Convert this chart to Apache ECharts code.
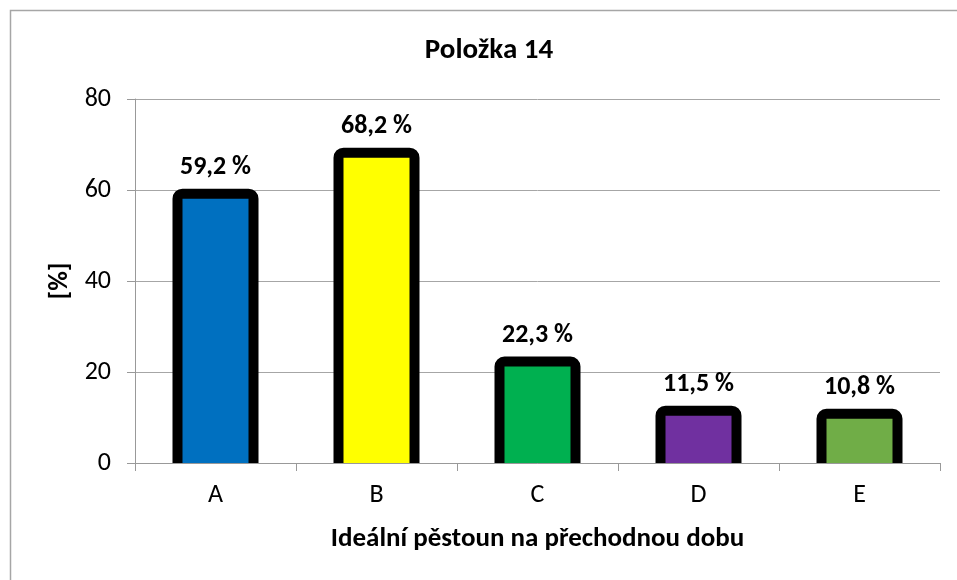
<!DOCTYPE html>
<html>
<head>
<meta charset="utf-8">
<title>Položka 14</title>
<script src="https://cdn.jsdelivr.net/npm/echarts@6/dist/echarts.min.js"></script>
<style>
  html, body { margin: 0; padding: 0; background: #fff; }
  #chart { width: 957px; height: 580px; }
</style>
</head>
<body>
<div id="chart"></div>
<script>
// data
var categories = ["A", "B", "C", "D", "E"];
var values = [59.2, 68.2, 22.3, 11.5, 10.8];
var barColors = ["#0070C0", "#FFFF00", "#00B050", "#7030A0", "#70AD47"];
var yTicks = { min: 0, max: 80, step: 20 };

var font = "Carlito, Lato, sans-serif";

var myChart = echarts.init(document.getElementById("chart"));

function fmt(v) {
  return v.toFixed(1).replace(".", ",") + " %";
}

// bar with thick black outline centred on the edge, bottom hidden under the axis
function renderBar(params, api) {
  var idx = api.value(0);
  var v = api.value(1);
  var top = api.coord([idx, v]);
  var base = api.coord([idx, 0]);
  var w = 76;
  return {
    type: "group",
    children: [
      {
        type: "rect",
        shape: { x: top[0] - w / 2, y: top[1], width: w, height: base[1] - top[1] + 12, r: [5, 5, 0, 0] },
        style: { fill: barColors[params.dataIndex], stroke: "#000", lineWidth: 10 }
      },
      {
        type: "text",
        x: top[0],
        y: top[1] - 13,
        style: {
          text: fmt(v),
          align: "center",
          verticalAlign: "bottom",
          font: "bold 26px " + font,
          fill: "#000"
        }
      }
    ]
  };
}

var option = {
  animation: false,
  textStyle: { fontFamily: font, color: "#000" },
  title: {
    text: "Položka 14",
    left: 484,
    top: 31,
    textAlign: "center",
    textStyle: { fontFamily: font, fontSize: 29, fontWeight: "bold", color: "#000" }
  },
  graphic: [
    {
      type: "rect",
      shape: { x: 10.5, y: 10.5, width: 960, height: 600 },
      style: { fill: "none", stroke: "#a6a6a6", lineWidth: 1.5 },
      silent: true
    }
  ],
  grid: {
    left: 135,
    right: 17,
    top: 99,
    bottom: 117
  },
  xAxis: {
    type: "category",
    data: categories,
    name: "Ideální pěstoun na přechodnou dobu",
    nameLocation: "middle",
    nameGap: 63,
    nameTextStyle: { fontFamily: font, fontSize: 27, fontWeight: "bold", color: "#000" },
    axisLine: { lineStyle: { color: "#999", width: 1 } },
    axisTick: { show: true, length: 8, lineStyle: { color: "#999" } },
    axisLabel: { fontFamily: font, fontSize: 26, color: "#000", margin: 19 },
    splitLine: { show: false }
  },
  yAxis: {
    type: "value",
    min: yTicks.min,
    max: yTicks.max,
    interval: yTicks.step,
    name: "[%]",
    nameLocation: "middle",
    nameRotate: 90,
    nameGap: 60,
    nameTextStyle: { fontFamily: font, fontSize: 27, fontWeight: "bold", color: "#000" },
    axisLine: { show: true, lineStyle: { color: "#999", width: 1 } },
    axisTick: { show: true, length: 8, lineStyle: { color: "#999" } },
    axisLabel: { fontFamily: font, fontSize: 26, color: "#000", margin: 24 },
    splitLine: { show: true, lineStyle: { color: "#a6a6a6", width: 1 } }
  },
  series: [
    {
      type: "custom",
      clip: true,
      renderItem: renderBar,
      encode: { x: 0, y: 1 },
      data: values.map(function (v, i) {
        return [i, v];
      })
    }
  ]
};

myChart.setOption(option, true);
</script>
</body>
</html>
